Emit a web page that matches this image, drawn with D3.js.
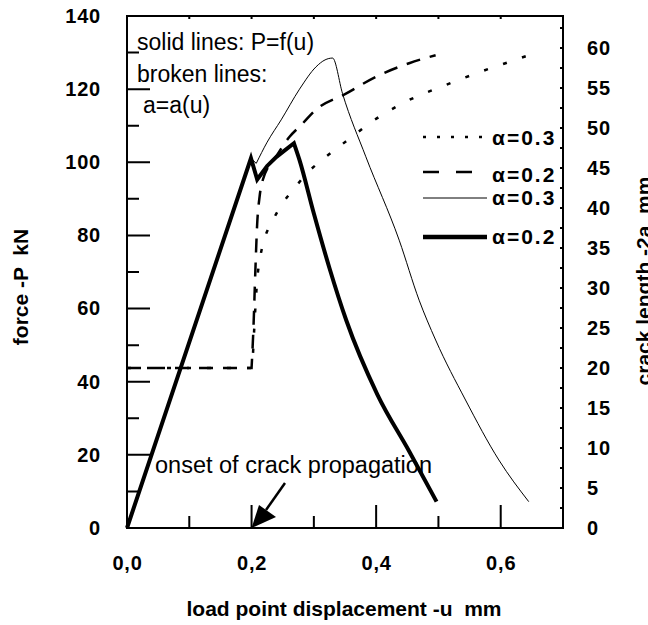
<!DOCTYPE html>
<html><head><meta charset="utf-8">
<script src="https://cdn.jsdelivr.net/npm/d3@7"></script>
<style>
body{margin:0;background:#fff;}
svg{display:block;font-family:"Liberation Sans",Arial,sans-serif;}
text{white-space:pre;}
</style></head>
<body><svg id="c" width="648" height="625"></svg>
<script>
// ---- data ----
const uMajorTicks = [0, 0.2, 0.4, 0.6];
const uMinorTicks = [0.1, 0.3, 0.5];
const uTopTicks = [0, 0.1, 0.2, 0.3, 0.4, 0.5, 0.6, 0.7];
const pMajorTicks = [0, 20, 40, 60, 80, 100, 120, 140];
const pMinorTicks = [10, 30, 50, 70, 90, 110, 130];
const aTicks = [0, 2.5, 5, 7.5, 10, 12.5, 15, 17.5, 20, 22.5, 25, 27.5, 30, 32.5, 35, 37.5, 40, 42.5, 45, 47.5, 50, 52.5, 55, 57.5, 60, 62.5];

// force P (kN) vs displacement u (mm), alpha = 0.2 (thick solid)
const thickU = [0, 0.199, 0.209, 0.225, 0.24, 0.268, 0.277, 0.300, 0.325, 0.352, 0.402, 0.453, 0.497];
const thickP = [0, 101.1, 95.3, 99.0, 101.5, 105.2, 100.6, 86.0, 71.1, 56.8, 36.5, 21.0, 7.2];
// force P vs u, alpha = 0.3 (thin solid)
const thinU = [0, 0.199, 0.2075, 0.225, 0.2475, 0.277, 0.3035, 0.318, 0.330, 0.346, 0.3835, 0.437, 0.469, 0.4955, 0.5435, 0.597, 0.645];
const thinP = [0, 101.1, 99.7, 105.5, 111.6, 120.0, 126.1, 128.0, 128.5, 118.8, 101.5, 78.7, 62.3, 51.4, 35.0, 18.6, 7.2];
// crack length 2a (mm) vs u, alpha = 0.2 (dashed)
const dashU = [0, 0.2, 0.203, 0.206, 0.209, 0.213, 0.218, 0.24, 0.261, 0.28, 0.3035, 0.3515, 0.3995, 0.453, 0.4955];
const dashA = [20, 20, 25, 32, 38, 41.5, 43.5, 46.5, 48.9, 50.4, 52.3, 54.3, 56.4, 58.1, 59.1];
// crack length 2a vs u, alpha = 0.3 (dotted)
const dotU = [0, 0.2, 0.202, 0.205, 0.209, 0.214, 0.221, 0.233, 0.2475, 0.268, 0.291, 0.3195, 0.346, 0.405, 0.453, 0.506, 0.5595, 0.6075, 0.645];
const dotA = [20, 20, 21.5, 26, 31, 33.9, 36.2, 38.3, 40.3, 42.4, 44.5, 46.4, 48.0, 51.4, 53.5, 55.2, 56.8, 58.1, 59.1];

const legendLabels = ["α=0.3", "α=0.2", "α=0.3", "α=0.2"];

// ---- layout ----
const L = 127, R = 563, T = 16, B = 528;
const FONT = '"Liberation Sans",Arial,sans-serif';
const TICK = "#000";
const svg = d3.select("#c");
const x = d3.scaleLinear().domain([0, 0.7]).range([L, R]);
const yP = d3.scaleLinear().domain([0, 140]).range([B, T]);
const yA = d3.scaleLinear().domain([0, 64]).range([B, T]);
const comma = v => d3.format(".1f")(v).replace(".", ",");

function styleAxis(g) {
  g.attr("font-family", FONT);
  g.select(".domain").remove();
  g.selectAll(".tick line").remove();
  g.selectAll("text").attr("font-size", 20).attr("font-weight", "bold").attr("fill", "#000").attr("letter-spacing", 0.8);
}

// frame
svg.append("rect").attr("x", L).attr("y", T).attr("width", R - L).attr("height", B - T)
  .attr("fill", "none").attr("stroke", "#000").attr("stroke-width", 2);

// axis labels via d3 axes
svg.append("g").attr("transform", `translate(0,${B})`)
  .call(d3.axisBottom(x).tickValues(uMajorTicks).tickSize(0).tickPadding(28).tickFormat(comma))
  .call(styleAxis);
svg.append("g").attr("transform", `translate(${L},0)`)
  .call(d3.axisLeft(yP).tickValues(pMajorTicks).tickSize(0).tickPadding(26))
  .call(styleAxis);
svg.append("g").attr("transform", `translate(${R},0)`)
  .call(d3.axisRight(yA).tickValues(aTicks.filter(v => v % 5 === 0)).tickSize(0).tickPadding(24))
  .call(styleAxis);

// inward ticks, one path built from the scales
let tp = "";
uMajorTicks.forEach(d => { tp += `M${x(d)},${B}V${B - 23}`; });
uMinorTicks.forEach(d => { tp += `M${x(d)},${B}V${B - 12}`; });
uTopTicks.forEach(d => { tp += `M${x(d)},${T}V${T + 3}`; });
pMajorTicks.forEach(d => { tp += `M${L},${yP(d)}H${L + 23}`; });
pMinorTicks.forEach(d => { tp += `M${L},${yP(d)}H${L + 12}`; });
aTicks.forEach(d => { tp += `M${R},${yA(d)}H${R - 3}`; });
svg.append("path").attr("d", tp).attr("fill", "none").attr("stroke", TICK).attr("stroke-width", 2);

// curves: rising parts straight, falling/curved parts smooth
const mk = (us, vs) => us.map((u, i) => [u, vs[i]]);
function drawSeries(pts, yScale, splitIdx, attrs) {
  const lin = d3.line().x(d => x(d[0])).y(d => yScale(d[1]));
  const smooth = d3.line().curve(d3.curveMonotoneX).x(d => x(d[0])).y(d => yScale(d[1]));
  const d = lin(pts.slice(0, splitIdx + 1)) + "L" + smooth(pts.slice(splitIdx)).slice(1);
  const p = svg.append("path").attr("d", d).attr("fill", "none").attr("stroke", "#000");
  Object.entries(attrs).forEach(([k, v]) => p.attr(k, v));
}
drawSeries(mk(dotU, dotA), yA, 1, {"stroke-width": 2.5, "stroke-dasharray": "4,16"});
drawSeries(mk(dashU, dashA), yA, 1, {"stroke-width": 2.5, "stroke-dasharray": "14,10"});
drawSeries(mk(thinU, thinP), yP, 2, {"stroke-width": 1});
drawSeries(mk(thickU, thickP), yP, 5, {"stroke-width": 4, "stroke-linejoin": "miter"});

// legend
const legY = [137, 172, 198, 237];
const legTxtY = [145, 182, 205, 244];
const legStyles = [
  {w: 2.5, dash: "3,11"},
  {w: 2.5, dash: "16,17"},
  {w: 1, dash: null},
  {w: 4.5, dash: null}
];
legStyles.forEach((s, i) => {
  const ln = svg.append("line").attr("x1", 423).attr("x2", 487).attr("y1", legY[i]).attr("y2", legY[i])
    .attr("stroke", "#000").attr("stroke-width", s.w);
  if (s.dash) ln.attr("stroke-dasharray", s.dash);
  svg.append("text").attr("x", 492).attr("y", legTxtY[i]).attr("font-size", 21).attr("font-weight", "bold")
    .attr("letter-spacing", 2).text(legendLabels[i]);
});

// annotations
const ann = svg.append("g").attr("font-size", 23).attr("fill", "#000");
ann.append("text").attr("x", 137).attr("y", 50).text("solid lines: P=f(u)");
ann.append("text").attr("x", 137).attr("y", 82).text("broken lines:");
ann.append("text").attr("x", 143).attr("y", 113).text("a=a(u)");
ann.append("text").attr("x", 155).attr("y", 473).attr("font-size", 23.5).text("onset of crack propagation");

// arrow
svg.append("line").attr("x1", 285).attr("y1", 483).attr("x2", 266).attr("y2", 510)
  .attr("stroke", "#000").attr("stroke-width", 2.5);
svg.append("path").attr("d", `M${x(0.2)},${B} L259,505 L276,517 Z`).attr("fill", "#000");

// axis titles
svg.append("text").attr("transform", "translate(28,287) rotate(-90)").attr("text-anchor", "middle")
  .attr("font-size", 21).attr("font-weight", "bold").text("force -P  kN");
svg.append("text").attr("transform", "translate(651,281) rotate(-90)").attr("text-anchor", "middle")
  .attr("font-size", 21).attr("font-weight", "bold").text("crack length -2a  mm");
svg.append("text").attr("x", 344).attr("y", 616).attr("text-anchor", "middle")
  .attr("font-size", 21).attr("font-weight", "bold").text("load point displacement -u  mm");
</script></body></html>
